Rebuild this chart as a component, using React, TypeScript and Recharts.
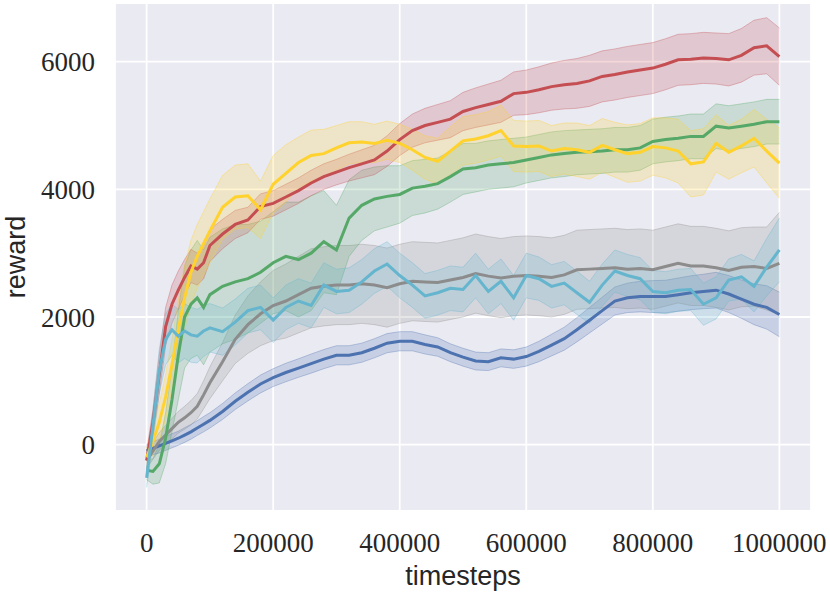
import { ComposedChart, Area, Line, XAxis, YAxis, CartesianGrid } from 'recharts';

// timesteps (finer at the start where the curves rise quickly)
const timesteps = [
  0, 10000, 20000, 30000, 40000, 50000, 60000, 70000, 80000, 90000, 100000,
  120000, 140000, 160000, 180000, 200000, 220000, 240000, 260000, 280000, 300000,
  320000, 340000, 360000, 380000, 400000, 420000, 440000, 460000, 480000, 500000,
  520000, 540000, 560000, 580000, 600000, 620000, 640000, 660000, 680000, 700000,
  720000, 740000, 760000, 780000, 800000, 820000, 840000, 860000, 880000, 900000,
  920000, 940000, 960000, 980000, 1000000,
];

const xTicks = [0, 200000, 400000, 600000, 800000, 1000000];
const yTicks = [0, 2000, 4000, 6000];

const redMean = [
  -250, 350, 1100, 1850, 2200, 2420, 2620, 2800, 2750, 2850, 3120,
  3300, 3450, 3520, 3730, 3780, 3880, 3980, 4100, 4200, 4270,
  4340, 4400, 4460, 4600, 4780, 4920, 5000, 5050, 5100, 5220,
  5280, 5330, 5380, 5500, 5520, 5560, 5610, 5640, 5660, 5700,
  5770, 5800, 5840, 5870, 5900, 5960, 6030, 6040, 6060, 6050,
  6030, 6100, 6220, 6250, 6080,
];
const redSpread = [
  150, 200, 300, 300, 300, 300, 280, 260, 250, 250, 250,
  230, 220, 200, 200, 200, 200, 200, 200, 200, 200,
  210, 220, 230, 240, 250, 260, 270, 280, 290, 300,
  310, 320, 330, 340, 350, 360, 370, 380, 390, 400,
  400, 400, 400, 400, 400, 400, 400, 400, 400, 400,
  410, 420, 430, 440, 450,
];

const yellowMean = [
  -200, 50, 350, 750, 1250, 1800, 2300, 2700, 2950, 3150, 3350,
  3720, 3880, 3900, 3680, 4080, 4250, 4420, 4530, 4560, 4650,
  4730, 4740, 4720, 4770, 4720, 4620, 4500, 4440, 4600, 4760,
  4790, 4840, 4920, 4680, 4670, 4680, 4600, 4640, 4620, 4580,
  4690, 4620, 4560, 4580, 4670, 4650, 4600, 4400, 4430, 4720,
  4580, 4680, 4800, 4600, 4410,
];
const yellowSpread = [
  150, 200, 300, 350, 400, 450, 500, 500, 500, 500, 500,
  500, 500, 500, 450, 450, 450, 400, 400, 380, 350,
  330, 320, 300, 300, 300, 320, 340, 360, 380, 380,
  380, 380, 400, 400, 400, 400, 400, 400, 420, 420,
  420, 430, 450, 450, 450, 470, 500, 520, 520, 450,
  420, 420, 450, 500, 550,
];

const greenMean = [
  -400, -420, -300, 100, 700, 1400, 2000, 2200, 2300, 2150, 2350,
  2480, 2550, 2600, 2700, 2850, 2950, 2900, 3000, 3180, 3050,
  3550, 3750, 3850, 3890, 3920, 4020, 4050, 4090, 4200, 4320,
  4340, 4380, 4400, 4420, 4460, 4500, 4540, 4560, 4580, 4590,
  4600, 4620, 4620, 4650, 4750, 4780, 4800, 4830, 4830, 4990,
  4960, 4990, 5020, 5060, 5060,
];
const greenSpread = [
  150, 200, 300, 400, 500, 700, 800, 850, 900, 900, 900,
  900, 900, 850, 800, 800, 850, 900, 900, 800, 700,
  600, 550, 500, 480, 450, 430, 420, 400, 400, 400,
  380, 380, 380, 380, 360, 360, 360, 360, 350, 350,
  350, 350, 350, 350, 350, 350, 350, 350, 350, 350,
  350, 350, 350, 350, 350,
];

const grayMean = [
  -250, -100, 50, 150, 250, 350, 420, 500, 600, 780, 970,
  1300, 1650, 1880, 2050, 2180, 2250, 2350, 2450, 2480, 2500,
  2500, 2520, 2500, 2460, 2520, 2560, 2550, 2540, 2580, 2620,
  2680, 2640, 2610, 2640, 2650, 2640, 2620, 2660, 2740, 2750,
  2760, 2770, 2750, 2760, 2740, 2790, 2840, 2800, 2800, 2770,
  2730, 2780, 2790, 2760, 2840,
];
const graySpread = [
  120, 130, 140, 150, 160, 170, 180, 190, 200, 220, 250,
  300, 380, 450, 500, 550, 580, 600, 620, 620, 620,
  620, 620, 620, 620, 620, 620, 620, 620, 620, 620,
  620, 620, 620, 620, 620, 620, 620, 620, 620, 620,
  620, 620, 620, 620, 620, 620, 620, 620, 620, 620,
  620, 620, 620, 650, 800,
];

const cyanMean = [
  -520, 300, 1150, 1650, 1800, 1700, 1780, 1720, 1700, 1780, 1830,
  1770, 1920, 2100, 2150, 1950, 2150, 2250, 2180, 2500, 2400,
  2420, 2550, 2720, 2830, 2650, 2500, 2330, 2380, 2450, 2430,
  2650, 2400, 2560, 2300, 2650, 2600, 2480, 2530, 2380, 2230,
  2500, 2720, 2650, 2600, 2400, 2380, 2420, 2430, 2200, 2300,
  2580, 2630, 2480, 2780, 3050,
];
const cyanSpread = [
  150, 250, 350, 400, 400, 420, 430, 430, 420, 400, 380,
  370, 360, 350, 350, 350, 350, 350, 350, 350, 350,
  350, 350, 350, 350, 350, 350, 350, 350, 350, 350,
  350, 350, 350, 350, 350, 340, 340, 340, 340, 330,
  330, 330, 330, 330, 330, 330, 330, 330, 330, 330,
  330, 350, 400, 450, 500,
];

const blueMean = [
  -100, -60, -20, 20, 60, 100, 150, 200, 260, 320, 380,
  520, 680, 820, 950, 1050, 1130, 1200, 1270, 1340, 1400,
  1400, 1440, 1510, 1590, 1620, 1620, 1570, 1530, 1440, 1370,
  1310, 1300, 1360, 1340, 1380, 1460, 1560, 1660, 1800, 1950,
  2100, 2250, 2300, 2320, 2320, 2320, 2350, 2380, 2400, 2420,
  2360, 2280, 2200, 2150, 2040,
];
const blueSpread = [
  100, 100, 110, 110, 110, 110, 115, 115, 115, 120, 120,
  125, 130, 135, 140, 140, 145, 145, 150, 150, 150,
  150, 150, 150, 150, 150, 150, 150, 145, 140, 140,
  140, 140, 140, 145, 150, 160, 170, 180, 190, 200,
  210, 220, 230, 240, 250, 255, 260, 265, 270, 280,
  290, 300, 320, 340, 350,
];

// drawing order: first is at the bottom
const series = [
  { key: 'blue', color: '#4C72B0', mean: blueMean, spread: blueSpread },
  { key: 'gray', color: '#8C8C8C', mean: grayMean, spread: graySpread },
  { key: 'green', color: '#55A868', mean: greenMean, spread: greenSpread },
  { key: 'red', color: '#C44E52', mean: redMean, spread: redSpread },
  { key: 'yellow', color: '#FFD22E', mean: yellowMean, spread: yellowSpread },
  { key: 'cyan', color: '#64B5CD', mean: cyanMean, spread: cyanSpread },
];

const data = timesteps.map((t, i) => {
  const row: Record<string, number | number[]> = { t };
  series.forEach((s) => {
    row[s.key] = s.mean[i];
    row[s.key + 'Band'] = [s.mean[i] - s.spread[i], s.mean[i] + s.spread[i]];
  });
  return row;
});

const tickStyle = { fill: '#262626', fontSize: 27, fontFamily: '"Liberation Serif", serif' };
const labelFont = '"Liberation Sans", Arial, sans-serif';

const XLabel = () => (
  <text x={463} y={585} textAnchor="middle" fontSize={27} fontFamily={labelFont} fill="#262626">
    timesteps
  </text>
);

const YLabel = () => (
  <text x={25} y={257} textAnchor="middle" fontSize={27} fontFamily={labelFont} fill="#262626"
    transform="rotate(-90 25 257)">
    reward
  </text>
);

export default function App() {
  return (
    <div style={{ position: 'absolute', left: 0, top: 0, background: '#fff' }}>
      <ComposedChart width={830} height={596} data={data}
        margin={{ top: 3, right: 19, bottom: 0, left: 0 }}>
        <CartesianGrid fill="#EAEAF2" stroke="#ffffff" strokeWidth={1.8} />
        <XAxis dataKey="t" type="number" domain={[-50000, 1050000]} ticks={xTicks}
          allowDataOverflow axisLine={false} tickLine={false} tickSize={0} tickMargin={22}
          height={85} tick={tickStyle} interval={0} label={XLabel} />
        <YAxis type="number" domain={[-1040, 6920]} ticks={yTicks} allowDataOverflow
          axisLine={false} tickLine={false} tickSize={0} tickMargin={20}
          width={115} tick={tickStyle} interval={0} label={YLabel} />
        {series.flatMap((s) => [
          <Area key={s.key + 'Band'} dataKey={s.key + 'Band'} type="linear"
            fill={s.color} fillOpacity={0.22} stroke={s.color} strokeOpacity={0.35}
            strokeWidth={1} isAnimationActive={false} />,
          <Line key={s.key} dataKey={s.key} type="linear" stroke={s.color}
            strokeWidth={3} dot={false} isAnimationActive={false} />,
        ])}
      </ComposedChart>
    </div>
  );
}
